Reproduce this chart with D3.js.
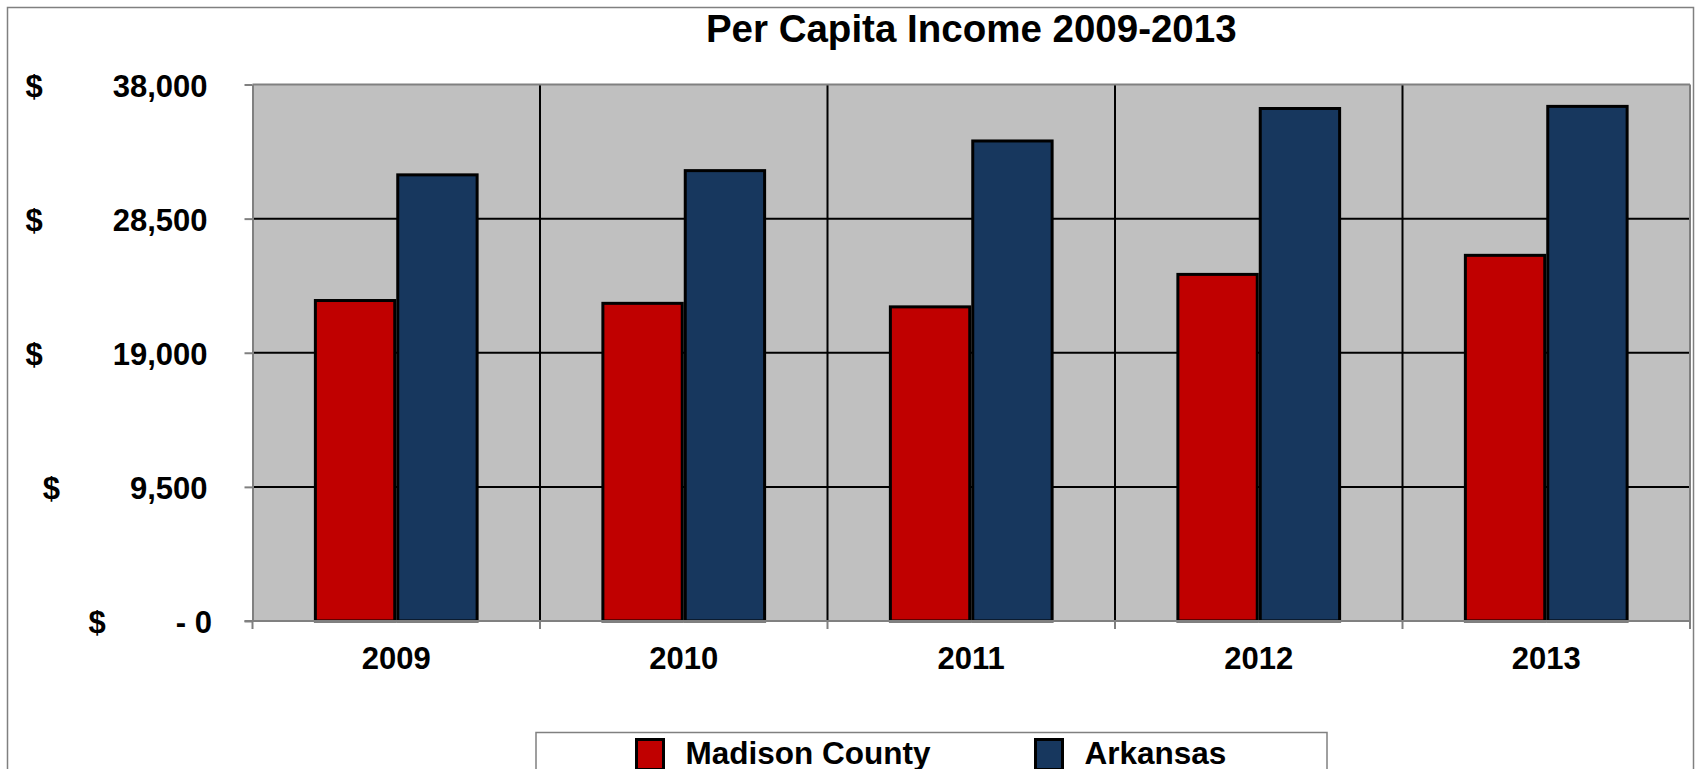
<!DOCTYPE html>
<html>
<head>
<meta charset="utf-8">
<script src="https://cdn.jsdelivr.net/npm/d3@7"></script>
<style>
  html, body { margin: 0; padding: 0; background: #fff; }
  svg { display: block; }
  text { font-family: "Liberation Sans", Arial, sans-serif; font-weight: bold; fill: #000; }
</style>
</head>
<body>
<svg id="chart" width="1696" height="769"></svg>
<script>
const title = "Per Capita Income 2009-2013";
const years = ["2009", "2010", "2011", "2012", "2013"];
const seriesNames = ["Madison County", "Arkansas"];
const madisonCounty = [22700, 22500, 22250, 24550, 25900];
const arkansas = [31600, 31900, 34000, 36300, 36450];
const yTicks = [0, 9500, 19000, 28500, 38000];
const yTickLabels = ["- 0", "9,500", "19,000", "28,500", "38,000"];
const colors = ["#C00000", "#17375E"];

const svg = d3.select("#chart");
const plot = { left: 252.5, right: 1690, top: 84.5, bottom: 621 };

// outer chart border
svg.append("rect").attr("x", 7.5).attr("y", 7.5).attr("width", 1686).attr("height", 800)
  .attr("fill", "#fff").attr("stroke", "#808080").attr("stroke-width", 1.5);

const y = d3.scaleLinear().domain([0, 38000]).range([plot.bottom, plot.top]);
const x0 = d3.scaleBand().domain(years).range([plot.left, plot.right]).paddingInner(0).paddingOuter(0);
const bw = x0.bandwidth();
const x1 = d3.scaleBand().domain(seriesNames).range([bw * 0.2135, bw * 0.7865]).padding(0);

// plot background
svg.append("rect").attr("x", plot.left).attr("y", plot.top)
  .attr("width", plot.right - plot.left).attr("height", plot.bottom - plot.top)
  .attr("fill", "#C0C0C0");

// horizontal gridlines
svg.append("g").selectAll("line").data(yTicks.filter(d => d > 0 && d < 38000)).join("line")
  .attr("x1", plot.left).attr("x2", plot.right)
  .attr("y1", d => y(d)).attr("y2", d => y(d))
  .attr("stroke", "#000").attr("stroke-width", 2);

// vertical gridlines at category boundaries
svg.append("g").selectAll("line").data(years.slice(1)).join("line")
  .attr("x1", d => x0(d)).attr("x2", d => x0(d))
  .attr("y1", plot.top).attr("y2", plot.bottom)
  .attr("stroke", "#000").attr("stroke-width", 2);

// bars
const rows = years.map((yr, i) => ({ year: yr, values: [madisonCounty[i], arkansas[i]] }));
const groups = svg.append("g").selectAll("g").data(rows).join("g")
  .attr("transform", d => `translate(${x0(d.year)},0)`);
groups.selectAll("rect").data(d => d.values.map((v, k) => ({ key: seriesNames[k], v, k }))).join("rect")
  .attr("x", d => x1(d.key) + 1.5)
  .attr("width", x1.bandwidth() - 3)
  .attr("y", d => y(d.v))
  .attr("height", d => y(0) - y(d.v))
  .attr("fill", d => colors[d.k])
  .attr("stroke", "#000").attr("stroke-width", 3);

// plot border (gray)
svg.append("line").attr("x1", plot.left).attr("x2", plot.right).attr("y1", plot.top).attr("y2", plot.top)
  .attr("stroke", "#808080").attr("stroke-width", 2);
svg.append("line").attr("x1", plot.right).attr("x2", plot.right).attr("y1", plot.top).attr("y2", plot.bottom)
  .attr("stroke", "#808080").attr("stroke-width", 2);

// y axis
const yAxis = d3.axisLeft(y).tickValues(yTicks).tickSize(8).tickFormat("").tickSizeOuter(0);
const yg = svg.append("g").attr("transform", `translate(${plot.left},0)`).call(yAxis);
yg.select(".domain").attr("stroke", "#808080").attr("stroke-width", 2);
yg.selectAll(".tick line").attr("stroke", "#808080").attr("stroke-width", 2);

// x axis line and boundary ticks
svg.append("line").attr("x1", plot.left - 8).attr("x2", plot.right).attr("y1", plot.bottom).attr("y2", plot.bottom)
  .attr("stroke", "#808080").attr("stroke-width", 2);
const bounds = years.map(d => x0(d)).concat([plot.right]);
svg.append("g").selectAll("line").data(bounds).join("line")
  .attr("x1", d => d).attr("x2", d => d)
  .attr("y1", plot.bottom).attr("y2", plot.bottom + 8)
  .attr("stroke", "#808080").attr("stroke-width", 2);

// y tick labels (accounting style)
const ylab = svg.append("g");
yTicks.forEach((t, i) => {
  const isZero = t === 0;
  const xr = isZero ? 212 : 207.5;
  const num = ylab.append("text").attr("x", xr).attr("y", y(t) + 12)
    .attr("text-anchor", "end").attr("font-size", 31).text(yTickLabels[i]);
  const w = num.node().getComputedTextLength();
  ylab.append("text").attr("x", xr - w - 70).attr("y", y(t) + 12)
    .attr("text-anchor", "end").attr("font-size", 31).text("$");
});

// x tick labels
svg.append("g").selectAll("text").data(years).join("text")
  .attr("x", d => x0(d) + bw / 2).attr("y", 669)
  .attr("text-anchor", "middle").attr("font-size", 31).text(d => d);

// title
svg.append("text").attr("x", (plot.left + plot.right) / 2).attr("y", 42)
  .attr("text-anchor", "middle").attr("font-size", 38.5).text(title);

// legend
svg.append("rect").attr("x", 536).attr("y", 732.5).attr("width", 791).attr("height", 60)
  .attr("fill", "#fff").attr("stroke", "#808080").attr("stroke-width", 1.5);
const legendX = [636.5, 1035.5];
const leg = svg.append("g").selectAll("g").data(seriesNames).join("g")
  .attr("transform", (d, i) => `translate(${legendX[i]},0)`);
leg.append("rect").attr("x", 0).attr("y", 739.5).attr("width", 27).attr("height", 30)
  .attr("fill", (d, i) => colors[i]).attr("stroke", "#000").attr("stroke-width", 3);
leg.append("text").attr("x", 49).attr("y", 764).attr("font-size", 31.5).text(d => d);
</script>
</body>
</html>
